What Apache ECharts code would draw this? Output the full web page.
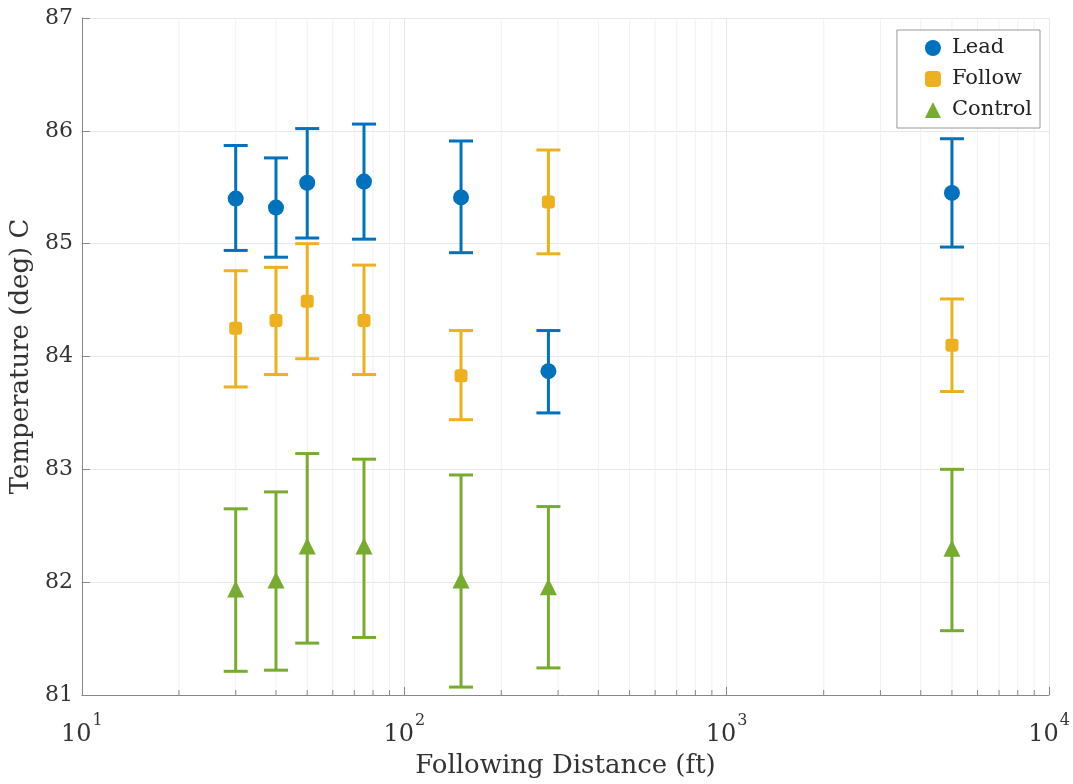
<!DOCTYPE html>
<html>
<head>
<meta charset="utf-8">
<script src="https://cdn.jsdelivr.net/npm/echarts@6/dist/echarts.min.js"></script>
<style>
  html, body { margin: 0; padding: 0; background: #fff; }
  #main { width: 1073px; height: 784px; }
</style>
</head>
<body>
<div id="main"></div>
<script>
// following distances (ft)
var distances = [30, 40, 50, 75, 150, 280, 5000];

// Lead
var leadMean = [85.40, 85.32, 85.54, 85.55, 85.41, 83.87, 85.45];
var leadLow  = [84.94, 84.88, 85.05, 85.04, 84.92, 83.50, 84.97];
var leadHigh = [85.87, 85.76, 86.02, 86.06, 85.91, 84.23, 85.93];

// Follow
var followMean = [84.25, 84.32, 84.49, 84.32, 83.83, 85.37, 84.10];
var followLow  = [83.73, 83.84, 83.98, 83.84, 83.44, 84.91, 83.69];
var followHigh = [84.76, 84.79, 85.00, 84.81, 84.23, 85.83, 84.51];

// Control
var controlMean = [81.94, 82.02, 82.32, 82.32, 82.02, 81.96, 82.30];
var controlLow  = [81.21, 81.22, 81.46, 81.51, 81.07, 81.24, 81.57];
var controlHigh = [82.65, 82.80, 83.14, 83.09, 82.95, 82.67, 83.00];

var yTicks = [81, 82, 83, 84, 85, 86, 87];

var BLUE = '#0072BD', YELLOW = '#EDB120', GREEN = '#77AC30';
var FONT = 'DejaVu Serif';

// minor log grid positions 20..90, 200..900, 2000..9000
var minorPos = [];
for (var d = 10; d < 10000; d *= 10) {
  for (var k = 2; k <= 9; k++) minorPos.push([d * k]);
}

function zip(xs, a, b) {
  return xs.map(function (x, i) { return [x, a[i], b[i]]; });
}

function errorBars(name, color, low, high) {
  return {
    name: name,
    type: 'custom',
    z: 3,
    silent: true,
    data: zip(distances, low, high),
    renderItem: function (params, api) {
      var x = api.value(0);
      var lo = api.coord([x, api.value(1)]);
      var hi = api.coord([x, api.value(2)]);
      var w = 12;
      var st = { stroke: color, lineWidth: 3 };
      return {
        type: 'group',
        children: [
          { type: 'line', shape: { x1: lo[0], y1: lo[1], x2: hi[0], y2: hi[1] }, style: st },
          { type: 'line', shape: { x1: lo[0] - w, y1: lo[1], x2: lo[0] + w, y2: lo[1] }, style: st },
          { type: 'line', shape: { x1: hi[0] - w, y1: hi[1], x2: hi[0] + w, y2: hi[1] }, style: st }
        ]
      };
    }
  };
}

function points(name, color, mean, symbol, size) {
  return {
    name: name,
    type: 'scatter',
    z: 4,
    symbol: symbol,
    symbolSize: size,
    itemStyle: { color: color, opacity: 1 },
    data: distances.map(function (x, i) { return [x, mean[i]]; })
  };
}

var myChart = echarts.init(document.getElementById('main'));
var option = {
  animation: false,
  backgroundColor: '#fff',
  grid: { left: 81, right: 24, top: 18, bottom: 87 },
  legend: {
    orient: 'vertical',
    right: 33,
    top: 30,
    data: ['Lead', 'Follow', 'Control'],
    backgroundColor: '#fff',
    borderColor: '#999',
    borderWidth: 1,
    borderRadius: 0,
    padding: [7, 8, 7, 28],
    itemGap: 9,
    itemWidth: 16,
    itemHeight: 16,
    textStyle: { fontFamily: FONT, fontSize: 21, color: '#222', lineHeight: 22, padding: [0, 0, 0, 6] }
  },
  xAxis: {
    type: 'log',
    logBase: 10,
    min: 10,
    max: 10000,
    name: 'Following Distance (ft)',
    nameLocation: 'middle',
    nameGap: 58,
    nameTextStyle: { fontFamily: FONT, fontSize: 26, color: '#333' },
    axisLine: { show: true, lineStyle: { color: '#888', width: 1 } },
    axisTick: { show: true, inside: true, length: 8, lineStyle: { color: '#888' } },
    splitLine: { show: true, lineStyle: { color: '#e8e8e8', width: 1 } },
    axisLabel: {
      margin: 18,
      formatter: function (v) {
        return '{b|10}{s|' + Math.round(Math.log10(v)) + '}';
      },
      rich: {
        b: { fontFamily: FONT, fontSize: 24, color: '#333', verticalAlign: 'bottom' },
        s: { fontFamily: FONT, fontSize: 16, color: '#333', verticalAlign: 'top', padding: [0, 0, 18, 1] }
      }
    }
  },
  yAxis: {
    type: 'value',
    min: yTicks[0],
    max: yTicks[yTicks.length - 1],
    interval: 1,
    name: 'Temperature (deg) C',
    nameLocation: 'middle',
    nameGap: 46,
    nameTextStyle: { fontFamily: FONT, fontSize: 26, color: '#333' },
    axisLine: { show: true, lineStyle: { color: '#888', width: 1 } },
    axisTick: { show: true, inside: true, length: 8, lineStyle: { color: '#888' } },
    splitLine: { show: true, lineStyle: { color: '#e8e8e8', width: 1 } },
    axisLabel: { fontFamily: FONT, fontSize: 22, color: '#333', margin: 9 }
  },
  series: [
    {
      name: 'minor',
      type: 'custom',
      z: 1,
      silent: true,
      data: minorPos,
      renderItem: function (params, api) {
        var x = api.value(0);
        var b = api.coord([x, yTicks[0]]);
        var t = api.coord([x, yTicks[yTicks.length - 1]]);
        return {
          type: 'group',
          children: [
            { type: 'line', shape: { x1: b[0], y1: b[1], x2: t[0], y2: t[1] }, style: { stroke: '#f2f2f2', lineWidth: 1 } },
            { type: 'line', shape: { x1: b[0], y1: b[1], x2: b[0], y2: b[1] - 5 }, style: { stroke: '#888', lineWidth: 1 } }
          ]
        };
      }
    },
    errorBars('leadErr', BLUE, leadLow, leadHigh),
    errorBars('followErr', YELLOW, followLow, followHigh),
    errorBars('controlErr', GREEN, controlLow, controlHigh),
    points('Lead', BLUE, leadMean, 'circle', 16),
    points('Follow', YELLOW, followMean, 'roundRect', 13),
    points('Control', GREEN, controlMean, 'triangle', 17)
  ]
};
myChart.setOption(option);
</script>
</body>
</html>
